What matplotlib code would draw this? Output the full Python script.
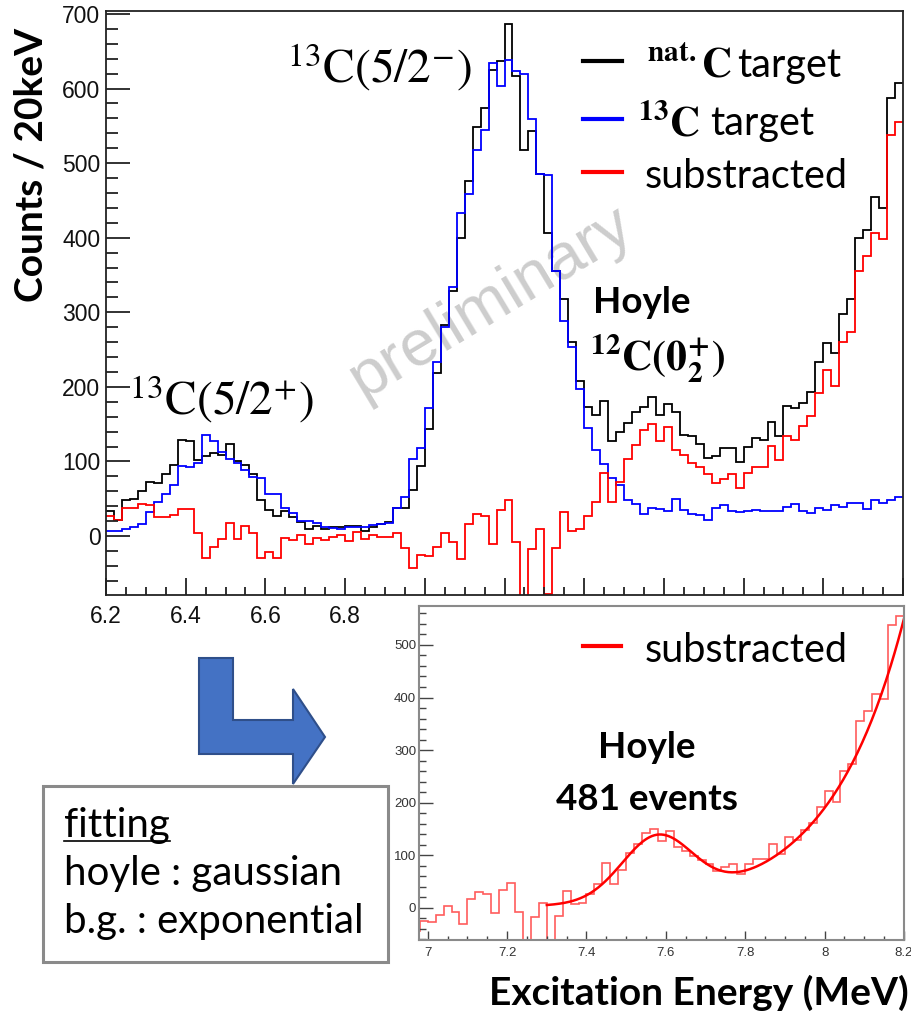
import numpy as np
import matplotlib.pyplot as plt
from matplotlib.patches import Polygon, Rectangle
from matplotlib.lines import Line2D
from matplotlib.ticker import MultipleLocator, FuncFormatter
from matplotlib.transforms import IdentityTransform

plt.rcParams['font.family'] = ['Liberation Sans', 'DejaVu Sans']
plt.rcParams['mathtext.fontset'] = 'stix'

# 20 keV bins from 6.2 to 8.2 MeV
edges = np.linspace(6.2, 8.2, 101)

# natural carbon target
nat_c = [33, 21, 48, 50, 60, 73, 71, 83, 95, 129,
         127, 102, 107, 112, 109, 123, 101, 95, 83, 48,
         35, 27, 33, 26, 19, 9, 14, 9, 12, 12,
         14, 14, 7, 12, 16, 19, 38, 37, 62, 94,
         144, 219, 283, 328, 399, 476, 548, 574, 625, 637,
         686, 617, 518, 543, 485, 407, 356, 318, 260, 208,
         173, 163, 181, 127, 140, 151, 167, 173, 187, 162,
         177, 167, 136, 134, 124, 105, 108, 118, 118, 99,
         120, 131, 129, 153, 134, 174, 172, 179, 193, 233,
         259, 245, 298, 318, 400, 411, 455, 440, 587, 608]

# 13C target
c13 = [7, 7, 10, 12, 16, 32, 46, 57, 69, 94,
       92, 98, 136, 127, 113, 104, 98, 89, 79, 78,
       56, 56, 38, 31, 20, 20, 17, 12, 11, 9,
       12, 12, 12, 15, 16, 18, 37, 53, 104, 118,
       172, 233, 280, 334, 433, 458, 517, 545, 634, 603,
       638, 624, 619, 559, 485, 484, 356, 289, 254, 197,
       145, 115, 96, 78, 69, 48, 43, 30, 37, 36,
       34, 50, 35, 30, 28, 22, 37, 42, 34, 32,
       34, 35, 34, 34, 34, 39, 43, 34, 31, 38,
       35, 42, 39, 45, 45, 36, 48, 45, 48, 52]

# natC - 13C
subtracted = [27, 21, 37, 37, 43, 41, 26, 26, 28, 36,
              36, 4, -30, -15, -4, 18, -4, 14, 4, -30,
              -22, -29, -2, -5, 1, -11, -2, -5, -1, 1,
              -6, 5, -4, 1, -1, -1, 4, -16, -43, -25,
              -27, -14, 4, -8, -31, 16, 30, 27, -10, 35,
              48, -8, -101, -17, 9, -78, -16, 32, 7, 10,
              27, 46, 85, 46, 72, 104, 122, 142, 150, 127,
              146, 115, 109, 98, 92, 83, 71, 77, 83, 65,
              84, 93, 93, 121, 102, 134, 129, 148, 161, 192,
              223, 201, 260, 273, 355, 375, 407, 398, 538, 555]

# fit: gaussian (hoyle) + exponential (b.g.)
gaus_amp, gaus_mean, gaus_sigma = 119.0, 7.578, 0.089
bg_at_end, bg_slope = 550.0, 5.31
fit_lo, fit_hi = 7.3, 8.2

W, H = 912, 1016
fig = plt.figure(figsize=(W / 100, H / 100), dpi=100)


def rect(x0, y0, x1, y1):
    return [x0 / W, 1 - y1 / H, (x1 - x0) / W, (y1 - y0) / H]


def fp(x, y):
    return x / W, 1 - y / H


# ---- upper panel
ax = fig.add_axes(rect(106, 11, 903, 595))
ax.stairs(nat_c, edges, baseline=None, color='black', lw=1.3)
ax.stairs(c13, edges, baseline=None, color='#0000ff', lw=1.3)
ax.stairs(subtracted, edges, baseline=None, color='#ff0000', lw=1.3)
ax.set_xlim(6.2, 8.2)
ax.set_ylim(-79, 704)
ax.xaxis.set_major_locator(MultipleLocator(0.2))
ax.xaxis.set_minor_locator(MultipleLocator(0.05))
# labels right of 6.8 sit under the lower panel
ax.xaxis.set_major_formatter(FuncFormatter(lambda v, p: f'{v:.1f}' if v < 6.9 else ''))
ax.yaxis.set_major_locator(MultipleLocator(100))
ax.yaxis.set_minor_locator(MultipleLocator(20))
ax.tick_params(which='both', direction='in', labelsize=16.5, width=1.3,
               color='#222222', labelcolor='#111111')
ax.tick_params(axis='y', which='major', length=17, pad=4)
ax.tick_params(axis='y', which='minor', length=8.5)
ax.tick_params(axis='x', which='major', length=12, pad=7)
ax.tick_params(axis='x', which='minor', length=6)
for s in ax.spines.values():
    s.set_linewidth(1.3)
    s.set_color('#222222')

ax.text((491 - 106) / 797, (595 - 302) / 584, 'preliminary', transform=ax.transAxes,
        rotation=31, fontsize=47, color='#cdcdcd', ha='center', va='center', zorder=0.5)

fig.text(*fp(31, 165), 'Counts / 20keV', rotation=90, ha='center', va='center',
         family='Lato', weight='bold', fontsize=28)

fig.text(*fp(287, 83), r'$^{13}\mathrm{C}(5/2^{-})$', ha='left', va='baseline', fontsize=34)
fig.text(*fp(129, 415), r'$^{13}\mathrm{C}(5/2^{+})$', ha='left', va='baseline', fontsize=34)
fig.text(*fp(593, 313), 'Hoyle', ha='left', va='baseline', family='Lato',
         weight='bold', fontsize=26.5)
fig.text(*fp(590, 370), r'$\mathbf{^{12}C(0_{2}^{+})}$', ha='left', va='baseline', fontsize=30)

# legend of the upper panel
key_rows = [('black', 61, 647, r'$\mathbf{^{nat.}C}$', 737, 77),
            ('#0000ff', 119, 638, r'$\mathbf{^{13}C}$', 710, 135),
            ('#ff0000', 172, None, None, 645, 188)]
for col, ky, mx, mtxt, tx, base in key_rows:
    fig.add_artist(Line2D([583 / W, 622 / W], [1 - ky / H, 1 - ky / H], color=col, lw=3,
                          transform=fig.transFigure))
    if mtxt:
        fig.text(*fp(mx, base), mtxt, ha='left', va='baseline', fontsize=30)
        fig.text(*fp(tx, base), 'target', ha='left', va='baseline', family='Lato', fontsize=28.5)
    else:
        fig.text(*fp(tx, base), 'substracted', ha='left', va='baseline', family='Lato',
                 fontsize=28.5)

# ---- lower panel (fit)
ax2 = fig.add_axes(rect(419, 606, 904, 940))
ax2.stairs(subtracted, edges, baseline=None, color='#ff5c5c', lw=1.2)
x_fit = np.linspace(fit_lo, fit_hi, 300)
y_fit = (gaus_amp * np.exp(-0.5 * ((x_fit - gaus_mean) / gaus_sigma) ** 2)
         + bg_at_end * np.exp(bg_slope * (x_fit - fit_hi)))
ax2.plot(x_fit, y_fit, color='#ff0000', lw=1.8)
ax2.set_xlim(6.978, 8.2)
ax2.set_ylim(-61, 574)
ax2.xaxis.set_major_locator(MultipleLocator(0.2))
ax2.xaxis.set_minor_locator(MultipleLocator(0.05))
ax2.xaxis.set_major_formatter(FuncFormatter(lambda v, p: f'{v:g}'))
ax2.yaxis.set_major_locator(MultipleLocator(100))
ax2.yaxis.set_minor_locator(MultipleLocator(20))
ax2.tick_params(which='both', direction='in', labelsize=9.5, width=1.0,
                color='#444444', labelcolor='#333333')
ax2.tick_params(axis='y', which='major', length=10, pad=2)
ax2.tick_params(axis='y', which='minor', length=5)
ax2.tick_params(axis='x', which='major', length=6.5, pad=5)
ax2.tick_params(axis='x', which='minor', length=3)
for s in ax2.spines.values():
    s.set_linewidth(1.5)
    s.set_color('#8a8a8a')

fig.add_artist(Line2D([583 / W, 621 / W], [1 - 646 / H, 1 - 646 / H], color='#ff0000', lw=3,
                      transform=fig.transFigure))
fig.text(*fp(645, 662), 'substracted', ha='left', va='baseline', family='Lato', fontsize=28.5)
fig.text(*fp(647, 758), 'Hoyle', ha='center', va='baseline', family='Lato',
         weight='bold', fontsize=26.5)
fig.text(*fp(647, 810), '481 events', ha='center', va='baseline', family='Lato',
         weight='bold', fontsize=26.5)

fig.text(*fp(909, 1005), 'Excitation Energy (MeV)', ha='right', va='baseline',
         family='Lato', weight='bold', fontsize=28)

# ---- arrow and fit note
arrow_px = [(199, 658), (233, 658), (233, 720), (293, 720), (293, 689), (325, 737),
            (293, 784), (293, 754), (199, 754)]
fig.add_artist(Polygon([fp(x, y) for x, y in arrow_px], closed=True, fc='#4472c4',
                       ec='#2f4f8a', lw=1.5, transform=fig.transFigure))
fig.add_artist(Rectangle(fp(43, 962), (388 - 43) / W, (962 - 786) / H, fc='white',
                         ec='#8a8a8a', lw=2.2, transform=fig.transFigure))
t_fit = fig.text(*fp(64, 837), 'fitting', ha='left', va='baseline', family='Lato', fontsize=29)
fig.text(*fp(64, 885), 'hoyle : gaussian', ha='left', va='baseline', family='Lato', fontsize=29)
fig.text(*fp(64, 933), 'b.g. : exponential', ha='left', va='baseline', family='Lato',
         fontsize=29)

fig.canvas.draw()
bb = t_fit.get_window_extent(fig.canvas.get_renderer())
uy = H - 841
fig.add_artist(Line2D([bb.x0, bb.x1], [uy, uy], color='black', lw=1.2,
                      transform=IdentityTransform()))

fig.savefig('out.png', dpi=100)
